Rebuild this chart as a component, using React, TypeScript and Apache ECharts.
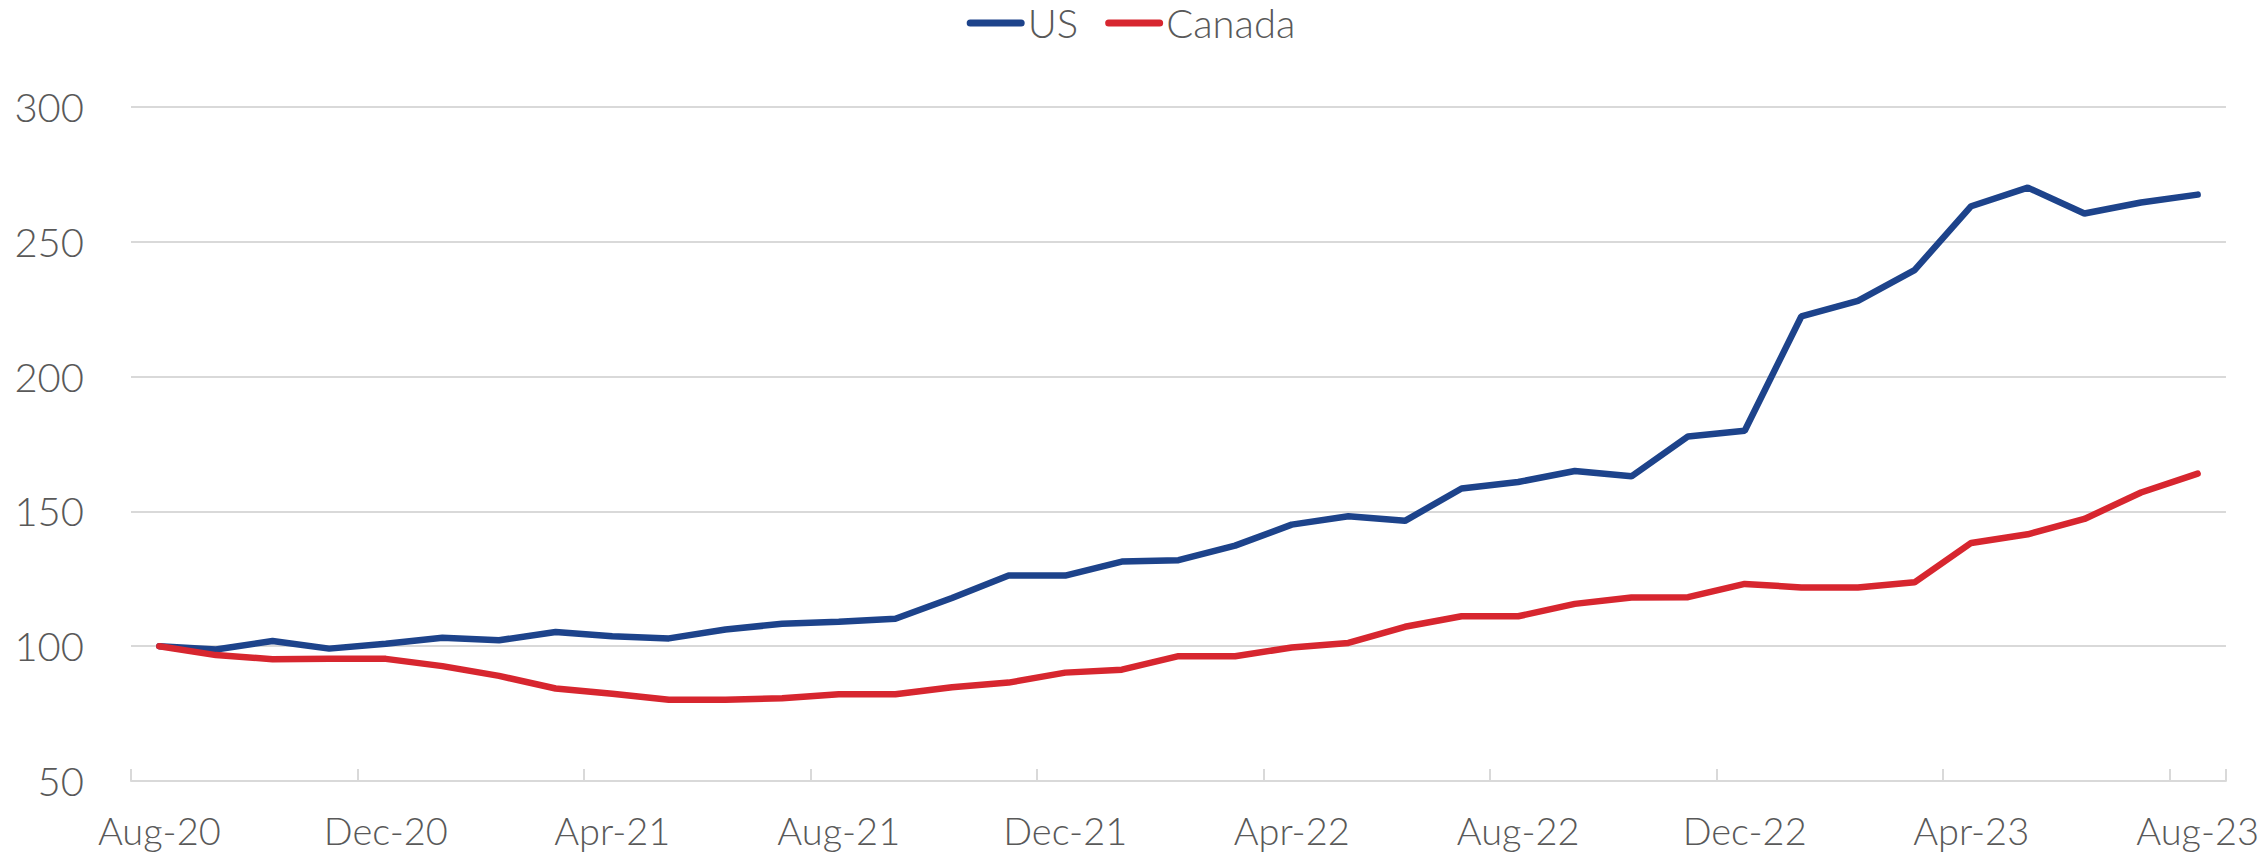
import React, { useEffect, useRef } from "react";
import * as echarts from "echarts";

const months: string[] = [
  "Aug-20", "Sep-20", "Oct-20", "Nov-20", "Dec-20", "Jan-21", "Feb-21", "Mar-21",
  "Apr-21", "May-21", "Jun-21", "Jul-21", "Aug-21", "Sep-21", "Oct-21", "Nov-21",
  "Dec-21", "Jan-22", "Feb-22", "Mar-22", "Apr-22", "May-22", "Jun-22", "Jul-22",
  "Aug-22", "Sep-22", "Oct-22", "Nov-22", "Dec-22", "Jan-23", "Feb-23", "Mar-23",
  "Apr-23", "May-23", "Jun-23", "Jul-23", "Aug-23",
];

const usValues: number[] = [
  100, 98.8, 101.9, 99.1, 100.9, 103.1, 102.2, 105.3, 103.7, 102.9,
  106.2, 108.3, 109.1, 110.2, 117.9, 126.2, 126.2, 131.4, 131.9, 137.3,
  145.1, 148.2, 146.5, 158.5, 160.9, 165.0, 163.0, 177.8, 179.9, 222.3,
  228.1, 239.5, 263.2, 270.1, 260.5, 264.6, 267.5,
];

const canadaValues: number[] = [
  100, 96.7, 95.2, 95.3, 95.3, 92.6, 89.0, 84.3, 82.4, 80.1,
  80.1, 80.7, 82.2, 82.2, 84.8, 86.5, 90.2, 91.3, 96.3, 96.3,
  99.5, 101.2, 107.2, 111.1, 111.1, 115.7, 118.1, 118.2, 123.1, 121.8,
  121.8, 123.7, 138.3, 141.5, 147.2, 157.0, 164.0,
];

const yMin = 50;
const yMax = 300;
const yStep = 50;

const US_COLOR = "#1D438B";
const CA_COLOR = "#D7262F";
const TEXT_COLOR = "#595959";
const GRID_COLOR = "#D9D9D9";
const FONT = "Lato, 'Noto Sans', sans-serif";

const capsule =
  "path://M3.5,0 H54.5 A3.5,3.5 0 0 1 54.5,7 H3.5 A3.5,3.5 0 0 1 3.5,0 Z";

export default function App() {
  const ref = useRef<HTMLDivElement>(null);

  useEffect(() => {
    document.body.style.margin = "0";
    if (!ref.current) return;
    const chart = echarts.init(ref.current, undefined, { renderer: "svg" });
    chart.setOption({
      animation: false,
      backgroundColor: "#ffffff",
      textStyle: { fontFamily: FONT },
      legend: {
        top: -2,
        left: "center",
        itemWidth: 58,
        itemHeight: 7,
        itemGap: 27,
        textStyle: {
          fontFamily: FONT,
          fontSize: 40,
          fontWeight: 300,
          color: TEXT_COLOR,
          lineHeight: 40,
          padding: [0, 0, 0, -2],
        },
        data: [
          { name: "US", icon: capsule, itemStyle: { color: US_COLOR } },
          { name: "Canada", icon: capsule, itemStyle: { color: CA_COLOR } },
        ],
      },
      grid: { left: 131, right: 32, top: 107, bottom: 76, containLabel: false },
      xAxis: {
        type: "category",
        data: months,
        boundaryGap: true,
        axisLine: { show: true, lineStyle: { color: GRID_COLOR, width: 2 } },
        axisTick: {
          show: true,
          inside: true,
          length: 12,
          interval: 3,
          alignWithLabel: false,
          lineStyle: { color: GRID_COLOR, width: 2 },
        },
        axisLabel: {
          interval: 3,
          margin: 30,
          fontSize: 38,
          fontWeight: 300,
          fontFamily: FONT,
          color: TEXT_COLOR,
        },
        splitLine: { show: false },
      },
      yAxis: {
        type: "value",
        min: yMin,
        max: yMax,
        interval: yStep,
        axisLine: { show: false },
        axisTick: { show: false },
        axisLabel: {
          margin: 47,
          fontSize: 40,
          fontWeight: 300,
          fontFamily: FONT,
          color: TEXT_COLOR,
        },
        splitLine: { show: true, lineStyle: { color: GRID_COLOR, width: 2 } },
      },
      series: [
        {
          name: "US",
          type: "line",
          data: usValues,
          symbol: "none",
          lineStyle: { color: US_COLOR, width: 6.5, cap: "round" },
          itemStyle: { color: US_COLOR },
        },
        {
          name: "Canada",
          type: "line",
          data: canadaValues,
          symbol: "none",
          lineStyle: { color: CA_COLOR, width: 6.5, cap: "round" },
          itemStyle: { color: CA_COLOR },
        },
      ],
    });
    return () => chart.dispose();
  }, []);

  return (
    <div
      ref={ref}
      style={{ position: "absolute", left: 0, top: 0, width: 2262, height: 857 }}
    />
  );
}
